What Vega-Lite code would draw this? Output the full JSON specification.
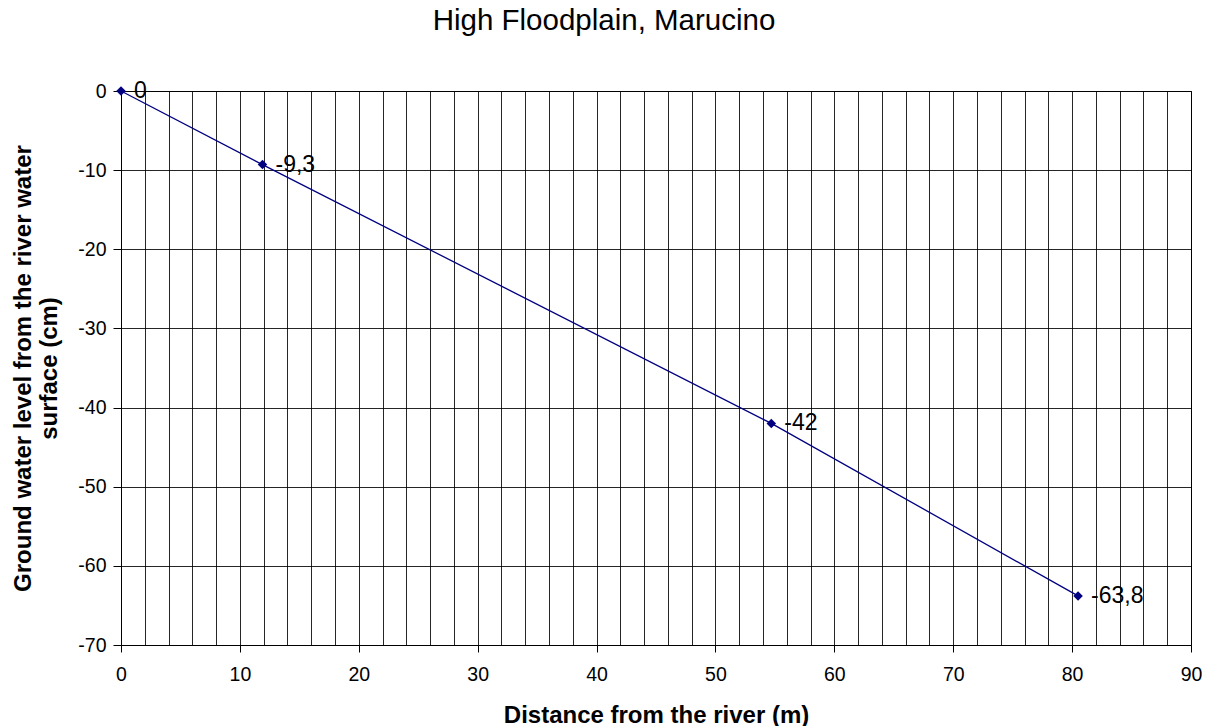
{
  "$schema": "https://vega.github.io/schema/vega-lite/v6.json",
  "autosize": {"type": "none"},
  "padding": {"left": 121, "top": 91, "right": 28, "bottom": 81},
  "width": 1070,
  "height": 554,
  "background": "white",
  "config": {
    "font": "Liberation Sans",
    "view": {"stroke": "#000", "strokeWidth": 1}
  },
  "title": {
    "text": "High Floodplain, Marucino",
    "fontSize": 29.5,
    "fontWeight": "normal",
    "font": "Liberation Sans",
    "color": "black",
    "anchor": "middle",
    "dx": -52,
    "offset": 44
  },
  "data": {
    "values": [
      {"distance": 0, "level": 0, "label": "0"},
      {"distance": 11.9, "level": -9.3, "label": "-9,3"},
      {"distance": 54.7, "level": -42, "label": "-42"},
      {"distance": 80.5, "level": -63.8, "label": "-63,8"}
    ]
  },
  "encoding": {
    "x": {
      "field": "distance",
      "type": "quantitative",
      "scale": {"domain": [0, 90], "nice": false, "zero": false},
      "axis": {
        "title": "Distance from the river (m)",
        "titleFontSize": 24,
        "titleFontWeight": "bold",
        "titleColor": "black",
        "titleBaseline": "alphabetic",
        "titleY": 77,
        "values": [0,2,4,6,8,10,12,14,16,18,20,22,24,26,28,30,32,34,36,38,40,42,44,46,48,50,52,54,56,58,60,62,64,66,68,70,72,74,76,78,80,82,84,86,88,90],
        "labelExpr": "datum.value % 10 === 0 ? datum.label : ''",
        "labelFlush": false,
        "labelFontSize": 19.5,
        "labelColor": "black",
        "labelPadding": 13,
        "tickColor": "black",
        "tickSize": 7,
        "tickOpacity": {"condition": {"test": "datum.value % 10 === 0", "value": 1}, "value": 0},
        "domainColor": "black",
        "grid": true,
        "gridColor": "#000",
        "gridWidth": 1,
        "gridOpacity": 0.85
      }
    },
    "y": {
      "field": "level",
      "type": "quantitative",
      "scale": {"domain": [-70, 0], "nice": false, "zero": false},
      "axis": {
        "title": ["Ground water level from the river water", "surface (cm)"],
        "titleFontSize": 24,
        "titleFontWeight": "bold",
        "titleColor": "black",
        "titleLineHeight": 26,
        "titleAngle": -90,
        "titleAlign": "center",
        "titleBaseline": "alphabetic",
        "titleX": -91,
        "titleY": 277,
        "values": [-70,-60,-50,-40,-30,-20,-10,0],
        "labelExpr": "replace(datum.label, '\u2212', '-')",
        "labelFlush": false,
        "labelFontSize": 19.5,
        "labelColor": "black",
        "labelPadding": 7,
        "tickColor": "black",
        "tickSize": 8,
        "domainColor": "black",
        "grid": true,
        "gridColor": "#000",
        "gridWidth": 1,
        "gridOpacity": 0.85
      }
    }
  },
  "layer": [
    {"mark": {"type": "line", "color": "#000080", "strokeWidth": 1.3}},
    {"mark": {"type": "point", "shape": "diamond", "filled": true, "color": "#000080", "size": 90, "opacity": 1}},
    {
      "mark": {"type": "text", "align": "left", "baseline": "middle", "dx": 13, "dy": 0, "fontSize": 23, "color": "black"},
      "encoding": {"text": {"field": "label"}}
    }
  ]
}
